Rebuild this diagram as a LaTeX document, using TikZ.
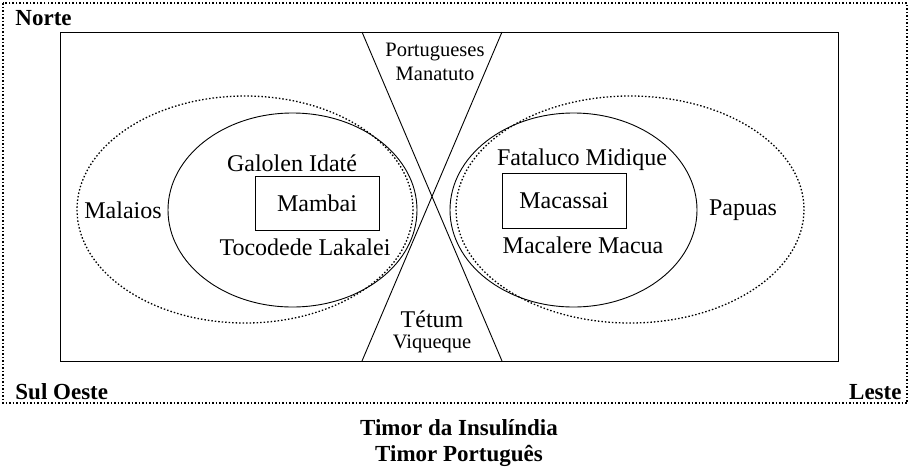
\documentclass[tikz,border=0pt]{standalone}
\usepackage{fontspec}
\setmainfont{Liberation Serif}
\begin{document}
\begin{tikzpicture}[x=1pt,y=-1pt,line width=0.9pt,
  lbl/.style={font=\fontsize{24}{26}\selectfont,inner sep=0pt},
  smalllbl/.style={font=\fontsize{20.5}{22}\selectfont,inner sep=0pt,align=center},
  boldlbl/.style={font=\fontsize{23}{26}\selectfont\bfseries,inner sep=0pt},
  dots/.style={dash pattern=on 1.5pt off 2pt,line width=1.3pt}]
\useasboundingbox (0,0) rectangle (912,469);
% outer dotted frame and inner frame
\draw[dots] (3,3) rectangle (907,403);
\draw (60,32) rectangle (838,361);
% cross
\coordinate (tl) at (362,32); \coordinate (tr) at (502,32);
\coordinate (bl) at (362,361); \coordinate (br) at (502,361);
\draw (tl) -- (br);
\draw (tr) -- (bl);
% ellipses
\draw[dots] (245,209.5) ellipse [x radius=168,y radius=113.5];
\draw (292.5,210) ellipse [x radius=124.5,y radius=97];
\draw[dots] (630,209.5) ellipse [x radius=174,y radius=113.5];
\draw (573.5,210) ellipse [x radius=123.5,y radius=97];
% boxes
\draw (255,176) rectangle (379,230);
\draw (502,173) rectangle (626,228);
% labels
\node[boldlbl,anchor=west] (norte) at (15,18) {Norte};
\node[boldlbl,anchor=west] (sul) at (15,392) {Sul Oeste};
\node[boldlbl,anchor=east] (leste) at (902,392) {Leste};
\node[boldlbl] (t1) at (459,428) {Timor da Insulíndia};
\node[boldlbl] (t2) at (459,456) {Timor Português};
\node[smalllbl] (port) at (435,52) {Portugueses};
\node[smalllbl] (mana) at (435,74) {Manatuto};
\node[lbl] (tetum) at (432,319) {Tétum};
\node[smalllbl] (viq) at (432,344) {Viqueque};
\node[lbl] (malaios) at (123,210) {Malaios};
\node[lbl] (galolen) at (292,163) {Galolen Idaté};
\node[lbl] (mambai) at (317,203) {Mambai};
\node[lbl] (toco) at (305,247) {Tocodede Lakalei};
\node[lbl] (fata) at (582,160) {Fataluco Midique};
\node[lbl] (maca) at (564,201) {Macassai};
\node[lbl] (macal) at (583,245) {Macalere Macua};
\node[lbl] (papuas) at (743,210) {Papuas};
\end{tikzpicture}
\end{document}
